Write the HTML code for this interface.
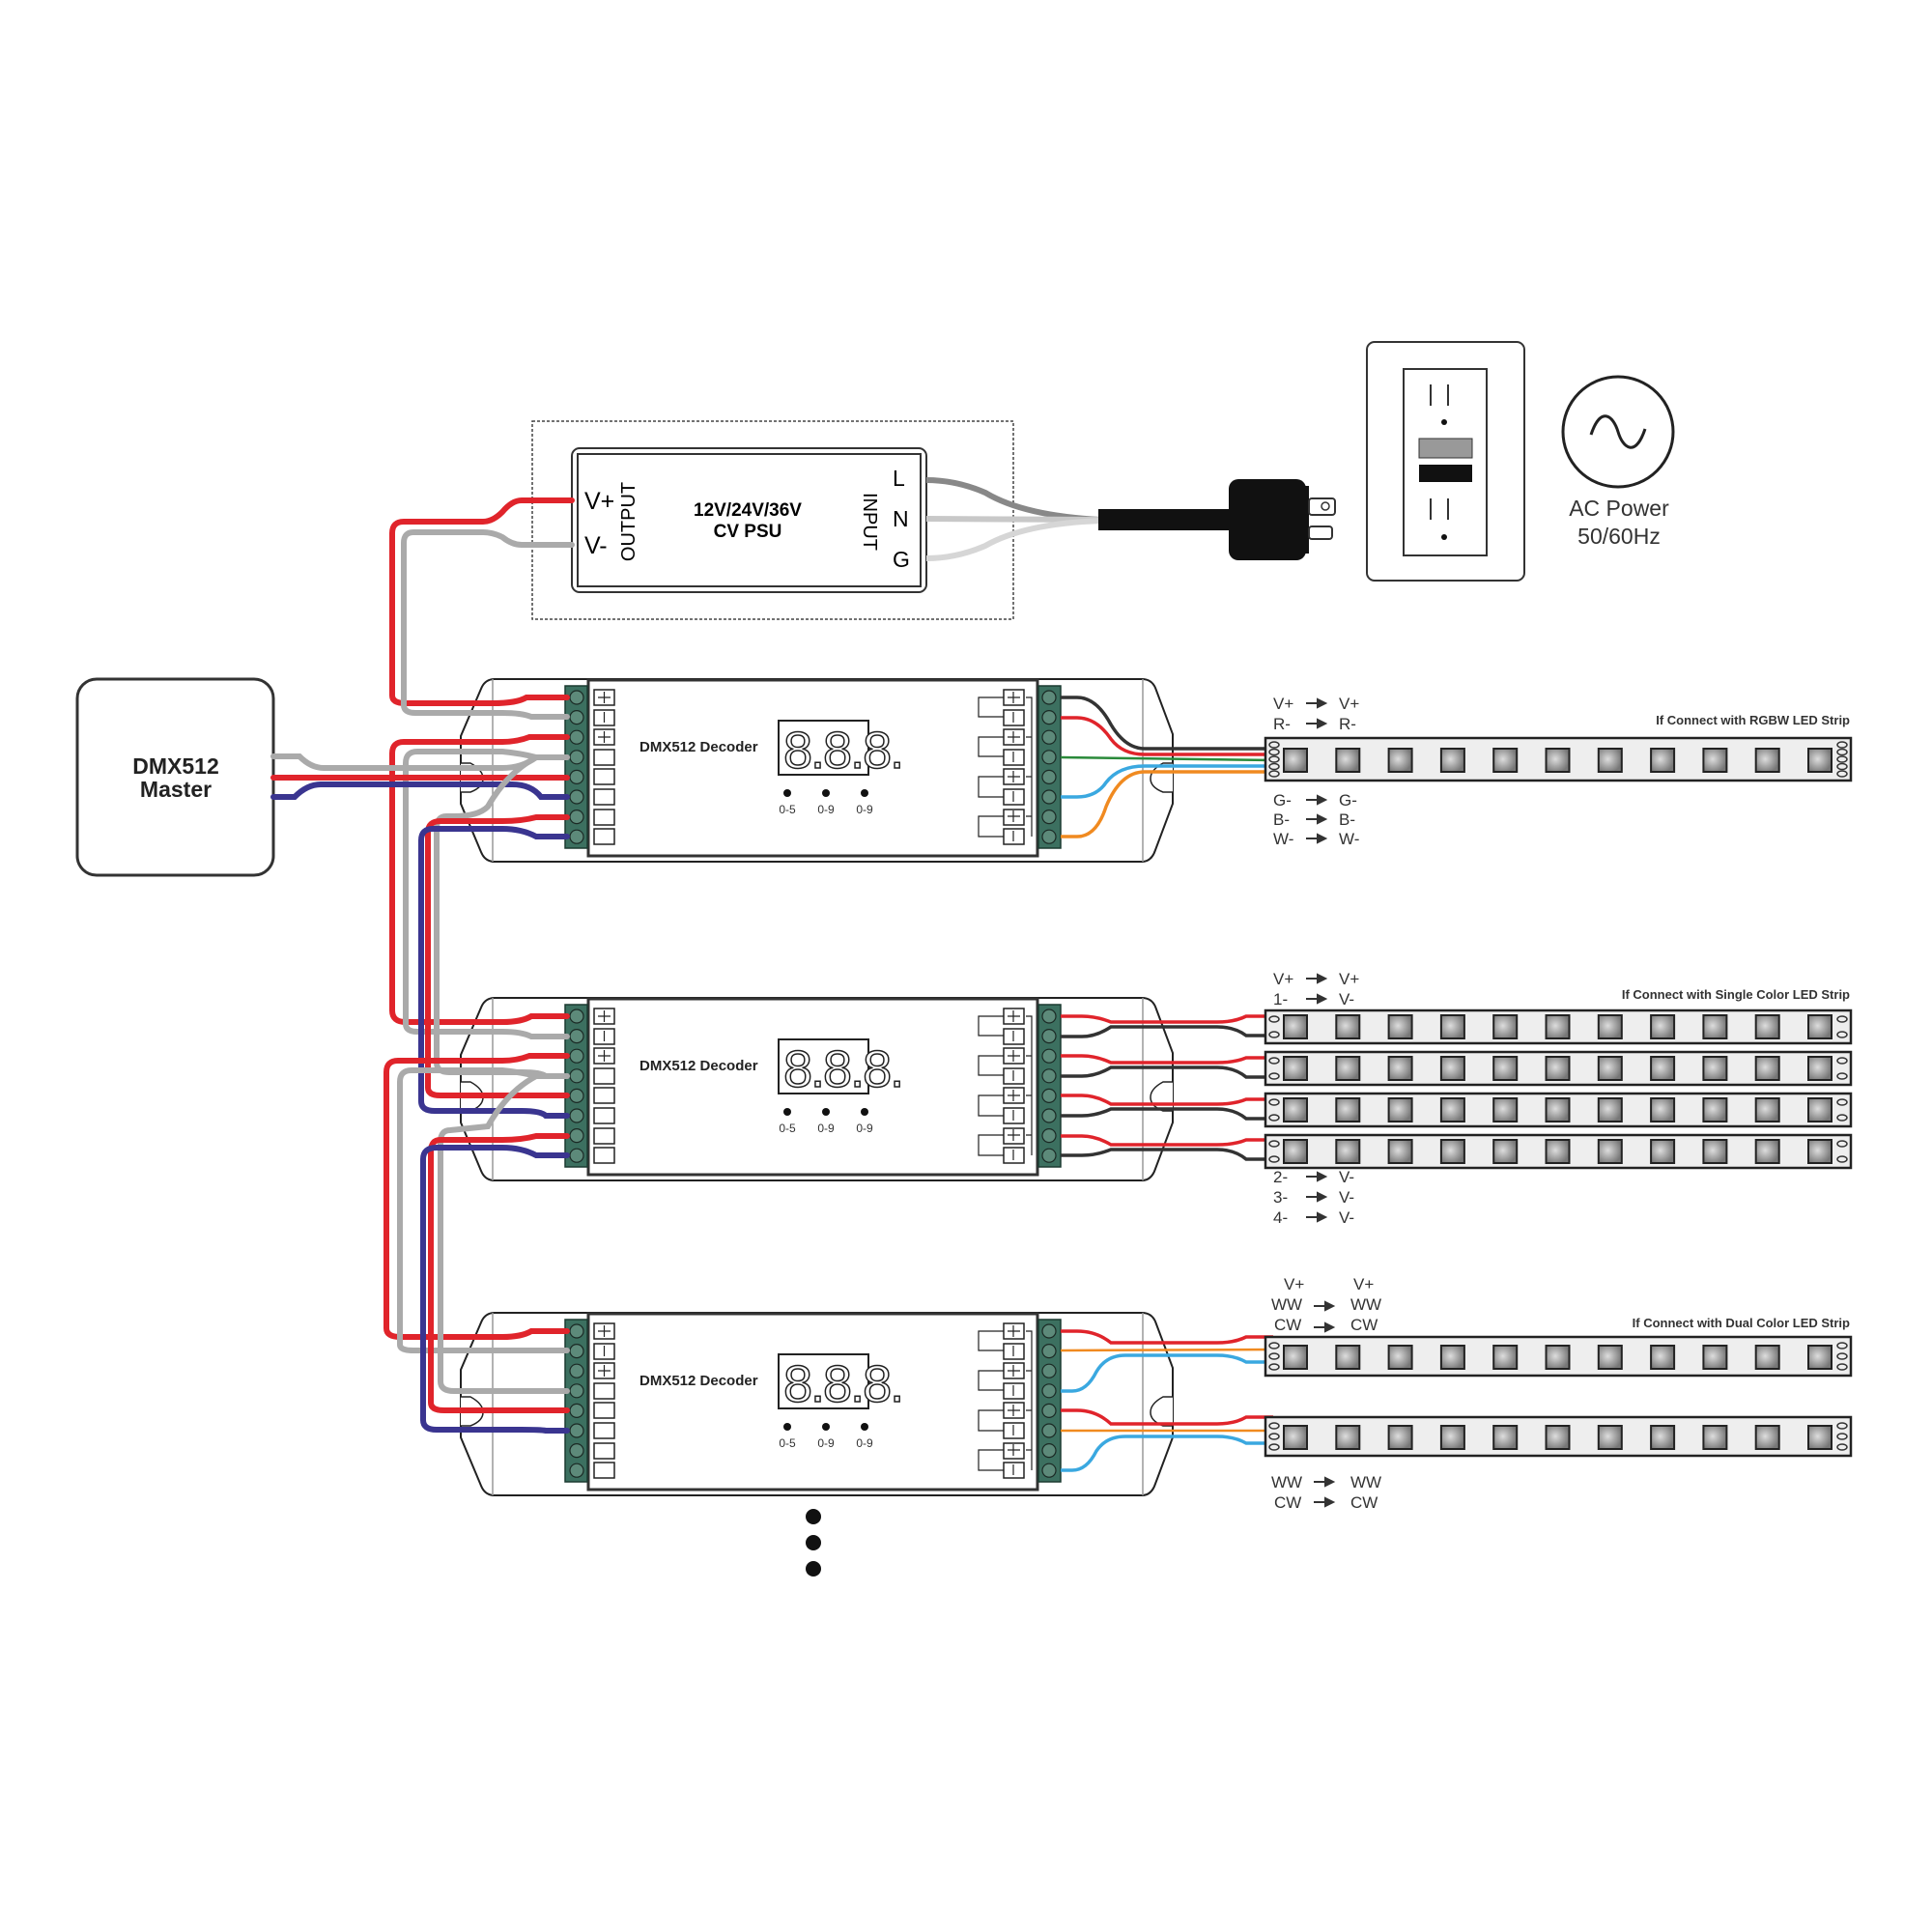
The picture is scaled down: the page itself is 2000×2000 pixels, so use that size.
<!DOCTYPE html>
<html><head><meta charset="utf-8"><style>
html,body{margin:0;padding:0;background:#fff}
svg{display:block}
text{font-family:"Liberation Sans",sans-serif}
</style></head><body>
<svg width="2000" height="2000" viewBox="0 0 2000 2000" xmlns="http://www.w3.org/2000/svg">
<defs>
<radialGradient id="led" cx="40%" cy="45%" r="60%"><stop offset="0" stop-color="#ddd"/><stop offset="1" stop-color="#777"/></radialGradient>
<g id="decbody">
  <path d="M512 703 L1182 703 Q1192 703 1196 712 L1214 760 L1214 832 L1196 880 Q1192 892 1182 892 L512 892 Q502 892 498 882 L477 832 L477 762 L498 713 Q502 703 512 703 Z" fill="#fff" stroke="#222" stroke-width="2"/>
  <path d="M477 790 L487 790 Q500 797 500 806 Q500 815 487 820 L477 820" fill="#fff" stroke="#222" stroke-width="1.5"/>
  <path d="M1214 790 L1204 790 Q1191 797 1191 806 Q1191 815 1204 820 L1214 820" fill="#fff" stroke="#222" stroke-width="1.5"/>
  <line x1="510" y1="703" x2="510" y2="892" stroke="#999" stroke-width="1.5"/>
  <line x1="1183" y1="703" x2="1183" y2="892" stroke="#999" stroke-width="1.5"/>
  <rect x="609" y="704" width="465" height="182" fill="#fff" stroke="#333" stroke-width="3"/>
  <rect x="585" y="710" width="23" height="168" fill="#3c7060" stroke="#1b3a30" stroke-width="1.5"/>
  <rect x="1075" y="710" width="23" height="168" fill="#3c7060" stroke="#1b3a30" stroke-width="1.5"/>
  <g fill="#5d8a7a" stroke="#1b2a25" stroke-width="1.2">
    <circle cx="597" cy="722" r="7"/><circle cx="597" cy="742.6" r="7"/><circle cx="597" cy="763.2" r="7"/><circle cx="597" cy="783.8" r="7"/><circle cx="597" cy="804.4" r="7"/><circle cx="597" cy="825" r="7"/><circle cx="597" cy="845.6" r="7"/><circle cx="597" cy="866.2" r="7"/>
    <circle cx="1086" cy="722" r="7"/><circle cx="1086" cy="742.6" r="7"/><circle cx="1086" cy="763.2" r="7"/><circle cx="1086" cy="783.8" r="7"/><circle cx="1086" cy="804.4" r="7"/><circle cx="1086" cy="825" r="7"/><circle cx="1086" cy="845.6" r="7"/><circle cx="1086" cy="866.2" r="7"/>
  </g>
  <g fill="#fff" stroke="#222" stroke-width="1.5">
    <rect x="615" y="714" width="21" height="16"/><rect x="615" y="735" width="21" height="16"/><rect x="615" y="755" width="21" height="16"/><rect x="615" y="776" width="21" height="16"/><rect x="615" y="796" width="21" height="16"/><rect x="615" y="817" width="21" height="16"/><rect x="615" y="838" width="21" height="16"/><rect x="615" y="858" width="21" height="16"/>
    <rect x="1039" y="714" width="21" height="16"/><rect x="1039" y="735" width="21" height="16"/><rect x="1039" y="755" width="21" height="16"/><rect x="1039" y="776" width="21" height="16"/><rect x="1039" y="796" width="21" height="16"/><rect x="1039" y="817" width="21" height="16"/><rect x="1039" y="838" width="21" height="16"/><rect x="1039" y="858" width="21" height="16"/>
  </g>
  <g stroke="#222" stroke-width="1.2" fill="none">
    <path d="M1062 722 L1068 722 L1068 866 M1068 763 L1062 763 M1068 804 L1062 804 M1068 845 L1062 845"/>
    <path d="M1039 722 L1013 722 L1013 742 L1039 742 M1039 763 L1013 763 L1013 783 L1039 783 M1039 804 L1013 804 L1013 825 L1039 825 M1039 845 L1013 845 L1013 866 L1039 866"/>
    <path d="M1043 722 h13 M1049 716 v12 M1043 763 h13 M1049 757 v12 M1043 804 h13 M1049 798 v12 M1043 845 h13 M1049 839 v12 M1049 737 v11 M1049 778 v11 M1049 819 v11 M1049 860 v11"/>
    <path d="M619 722 h13 M625.5 716 v12 M619 763 h13 M625.5 757 v12 M625.5 737 v11"/>
  </g>
  <rect x="806" y="746" width="93" height="56" fill="#fff" stroke="#222" stroke-width="2"/>
  <circle cx="815" cy="821" r="4" fill="#111"/><circle cx="855" cy="821" r="4" fill="#111"/><circle cx="895" cy="821" r="4" fill="#111"/>
</g>
</defs>

<!-- PSU -->
<rect x="551" y="436" width="498" height="205" fill="none" stroke="#444" stroke-width="1.5" stroke-dasharray="3 2"/>
<rect x="592" y="464" width="367" height="149" rx="8" fill="#fff" stroke="#333" stroke-width="2"/>
<rect x="598" y="470" width="355" height="137" fill="none" stroke="#333" stroke-width="2"/>
<text x="605" y="527" font-size="25">V+</text>
<text x="605" y="573" font-size="25">V-</text>
<text transform="translate(657,540) rotate(-90)" font-size="20" text-anchor="middle">OUTPUT</text>
<text x="774" y="534" font-size="19" font-weight="bold" text-anchor="middle">12V/24V/36V</text>
<text x="774" y="556" font-size="19" font-weight="bold" text-anchor="middle">CV PSU</text>
<text transform="translate(894,540) rotate(90)" font-size="20" text-anchor="middle">INPUT</text>
<text x="924" y="503" font-size="23">L</text>
<text x="924" y="545" font-size="23">N</text>
<text x="924" y="587" font-size="23">G</text>
<!-- AC wires -->
<path d="M959 497 Q990 497 1020 510 Q1060 534 1140 538" fill="none" stroke="#888" stroke-width="6"/>
<path d="M959 537 L1140 538" fill="none" stroke="#c8c8c8" stroke-width="6"/>
<path d="M959 578 Q990 578 1020 565 Q1060 542 1140 539" fill="none" stroke="#d6d6d6" stroke-width="6"/>
<rect x="1137" y="527" width="140" height="22" fill="#111"/>
<rect x="1272" y="496" width="80" height="84" rx="10" fill="#111"/>
<rect x="1350" y="503" width="5" height="70" fill="#111"/>
<rect x="1355" y="516" width="27" height="17" rx="3" fill="#fff" stroke="#333" stroke-width="2"/>
<circle cx="1372" cy="524" r="4" fill="none" stroke="#333" stroke-width="1.5"/>
<rect x="1355" y="545" width="24" height="13" rx="3" fill="#fff" stroke="#333" stroke-width="2"/>
<!-- outlet -->
<rect x="1415" y="354" width="163" height="247" rx="8" fill="#fff" stroke="#333" stroke-width="2"/>
<rect x="1453" y="382" width="86" height="193" fill="#fff" stroke="#333" stroke-width="2"/>
<path d="M1481 398 v22 M1499 398 v22 M1481 516 v22 M1499 516 v22" stroke="#333" stroke-width="2"/>
<circle cx="1495" cy="437" r="3" fill="#111"/><circle cx="1495" cy="556" r="3" fill="#111"/>
<rect x="1469" y="454" width="55" height="20" fill="#999" stroke="#333" stroke-width="1"/>
<rect x="1469" y="481" width="55" height="18" fill="#111"/>
<circle cx="1675" cy="447" r="57" fill="none" stroke="#222" stroke-width="3"/>
<path d="M1647 450 C1657 420 1670 430 1675 447 C1680 464 1693 474 1703 444" fill="none" stroke="#222" stroke-width="3"/>
<text x="1676" y="534" font-size="23" text-anchor="middle" fill="#333">AC Power</text>
<text x="1676" y="563" font-size="23" text-anchor="middle" fill="#333">50/60Hz</text>

<!-- DMX master -->
<rect x="80" y="703" width="203" height="203" rx="20" fill="#fff" stroke="#333" stroke-width="3"/>
<text x="182" y="801" font-size="23" font-weight="bold" text-anchor="middle" fill="#222">DMX512</text>
<text x="182" y="825" font-size="23" font-weight="bold" text-anchor="middle" fill="#222">Master</text>

<!-- decoders -->
<use href="#decbody"/>
<use href="#decbody" transform="translate(0,330)"/>
<use href="#decbody" transform="translate(0,656)"/>

<!-- left wiring -->
<g fill="none" stroke-width="6" stroke-linecap="round">
  <path d="M592 518 L540 518 Q530 518 520 530 Q510 540 500 540 L418 540 Q406 540 406 552 L406 720 Q406 728 420 728 L510 728 Q535 728 545 722 L587 722" stroke="#e0242b"/>
  <path d="M592 564 L540 564 Q530 564 520 556 Q510 551 500 551 L428 551 Q418 551 418 562 L418 730 Q418 738 430 738 L520 738 Q540 738 550 742 L587 742" stroke="#aaa"/>
  <path d="M587 763 L548 763 Q535 768 520 768 L418 768 Q406 768 406 780 L406 1046 Q406 1058 420 1058 L520 1058 Q540 1058 550 1052 L587 1052" stroke="#e0242b"/>
  <path d="M587 784 L555 784 Q540 780 520 778 L432 778 Q420 778 420 790 L420 1060 Q420 1068 432 1068 L520 1068 Q540 1068 550 1073 L587 1073" stroke="#aaa"/>
  <path d="M283 783 L310 783 Q322 795 335 795 L520 795 Q540 795 555 784 L587 784" stroke="#aaa"/>
  <path d="M283 805 L587 805" stroke="#e0242b"/>
  <path d="M283 825 L305 825 Q318 812 332 812 L530 812 Q550 812 560 825 L587 825" stroke="#3a3590"/>
  <path d="M555 784 Q525 800 505 835 Q495 845 470 845 L462 845 Q452 845 452 858 L452 1100 Q452 1110 465 1110 L540 1110 Q560 1110 565 1114 L587 1114" stroke="#aaa"/>
  <path d="M587 846 L555 846 Q540 850 520 850 L456 850 Q443 850 443 862 L443 1126 Q443 1134 456 1134 L587 1134" stroke="#e0242b"/>
  <path d="M587 866 L555 866 Q540 858 520 858 L448 858 Q436 858 436 870 L436 1140 Q436 1150 450 1150 L540 1150 Q560 1150 565 1155 L587 1155" stroke="#3a3590"/>
  <path d="M587 1093 L548 1093 Q535 1098 520 1098 L412 1098 Q400 1098 400 1110 L400 1375 Q400 1384 414 1384 L520 1384 Q540 1384 550 1378 L587 1378" stroke="#e0242b"/>
  <path d="M587 1114 L555 1114 Q540 1110 520 1108 L426 1108 Q414 1108 414 1120 L414 1392 Q414 1398 428 1398 L587 1398" stroke="#aaa"/>
  <path d="M555 1114 Q525 1130 505 1166 L466 1170 Q456 1170 456 1182 L456 1430 Q456 1440 470 1440 L587 1440" stroke="#aaa"/>
  <path d="M587 1176 L555 1176 Q540 1180 520 1180 L456 1180 Q446 1180 446 1192 L446 1452 Q446 1460 460 1460 L587 1460" stroke="#e0242b"/>
  <path d="M587 1196 L555 1196 Q540 1188 520 1188 L452 1188 Q438 1188 438 1200 L438 1470 Q438 1480 452 1480 L540 1480 Q560 1480 565 1481 L587 1481" stroke="#3a3590"/>
</g>

<!-- right wiring d1 -->
<g fill="none" stroke-width="3.5">
  <path d="M1098 722 L1115 722 Q1135 722 1150 750 Q1165 775 1185 775 L1318 775" stroke="#333"/>
  <path d="M1098 743 L1115 743 Q1135 743 1150 765 Q1162 781 1185 781 L1318 781" stroke="#e0242b"/>
  <path d="M1098 784 L1318 787" stroke="#2a8a3a" stroke-width="2.5"/>
  <path d="M1098 825 L1115 825 Q1135 825 1145 810 Q1158 793 1185 793 L1318 793" stroke="#3aa8e0"/>
  <path d="M1098 866 L1115 866 Q1135 866 1145 835 Q1160 799 1185 799 L1318 799" stroke="#f08a20"/>
</g>
<g fill="none" stroke-width="3.5">
  <path d="M1098 1052 L1120 1052 Q1135 1052 1150 1058 L1260 1058 Q1278 1058 1290 1052 L1318 1052" stroke="#e0242b"/>
  <path d="M1098 1073 L1120 1073 Q1135 1073 1150 1063 L1260 1063 Q1278 1063 1290 1072 L1318 1072" stroke="#333"/>
  <path d="M1098 1093 L1120 1093 Q1135 1093 1150 1100 L1260 1100 Q1278 1100 1290 1095 L1318 1095" stroke="#e0242b"/>
  <path d="M1098 1114 L1120 1114 Q1135 1114 1150 1105 L1260 1105 Q1278 1105 1290 1115 L1318 1115" stroke="#333"/>
  <path d="M1098 1134 L1120 1134 Q1135 1134 1150 1143 L1260 1143 Q1278 1143 1290 1138 L1318 1138" stroke="#e0242b"/>
  <path d="M1098 1155 L1120 1155 Q1135 1155 1150 1148 L1260 1148 Q1278 1148 1290 1158 L1318 1158" stroke="#333"/>
  <path d="M1098 1176 L1120 1176 Q1135 1176 1150 1185 L1260 1185 Q1278 1185 1290 1180 L1318 1180" stroke="#e0242b"/>
  <path d="M1098 1196 L1120 1196 Q1135 1196 1150 1190 L1260 1190 Q1278 1190 1290 1200 L1318 1200" stroke="#333"/>
</g>
<g fill="none" stroke-width="3.5">
  <path d="M1098 1378 L1115 1378 Q1135 1378 1150 1390 L1260 1390 Q1278 1390 1290 1384 L1318 1384" stroke="#e0242b"/>
  <path d="M1098 1398 L1318 1397" stroke="#f08a20" stroke-width="2.5"/>
  <path d="M1098 1440 L1110 1440 Q1125 1440 1135 1420 Q1145 1403 1165 1403 L1260 1403 Q1278 1403 1290 1410 L1318 1410" stroke="#3aa8e0"/>
  <path d="M1098 1460 L1115 1460 Q1135 1460 1150 1474 L1260 1474 Q1278 1474 1290 1467 L1318 1467" stroke="#e0242b"/>
  <path d="M1098 1481 L1318 1481" stroke="#f08a20" stroke-width="2.5"/>
  <path d="M1098 1522 L1110 1522 Q1125 1522 1135 1502 Q1145 1487 1165 1487 L1260 1487 Q1278 1487 1290 1494 L1318 1494" stroke="#3aa8e0"/>
</g>

<!-- decoder texts -->
<g font-weight="bold" fill="#222">
  <text x="662" y="778" font-size="15">DMX512 Decoder</text>
  <text x="662" y="1108" font-size="15">DMX512 Decoder</text>
  <text x="662" y="1434" font-size="15">DMX512 Decoder</text>
</g>
<g font-size="54" fill="#fff" stroke="#222" stroke-width="1.5" font-family="Liberation Sans" letter-spacing="-2">
  <text x="811" y="795">8.8.8.</text>
  <text x="811" y="1125">8.8.8.</text>
  <text x="811" y="1451">8.8.8.</text>
</g>
<g font-size="12" fill="#333" text-anchor="middle">
  <text x="815" y="842">0-5</text><text x="855" y="842">0-9</text><text x="895" y="842">0-9</text>
  <text x="815" y="1172">0-5</text><text x="855" y="1172">0-9</text><text x="895" y="1172">0-9</text>
  <text x="815" y="1498">0-5</text><text x="855" y="1498">0-9</text><text x="895" y="1498">0-9</text>
</g>
<circle cx="842" cy="1570" r="8" fill="#111"/>
<circle cx="842" cy="1597" r="8" fill="#111"/>
<circle cx="842" cy="1624" r="8" fill="#111"/>

<g transform="translate(-8,0)">
<g id="stripsall">
<rect x="1318" y="764" width="606" height="44" fill="#eee" stroke="#222" stroke-width="2.5"/>
<rect x="1318" y="1046" width="606" height="34" fill="#eee" stroke="#222" stroke-width="2.5"/>
<rect x="1318" y="1089" width="606" height="34" fill="#eee" stroke="#222" stroke-width="2.5"/>
<rect x="1318" y="1132" width="606" height="34" fill="#eee" stroke="#222" stroke-width="2.5"/>
<rect x="1318" y="1175" width="606" height="34" fill="#eee" stroke="#222" stroke-width="2.5"/>
<rect x="1318" y="1384" width="606" height="40" fill="#eee" stroke="#222" stroke-width="2.5"/>
<rect x="1318" y="1467" width="606" height="40" fill="#eee" stroke="#222" stroke-width="2.5"/>
</g>
<g id="leds" fill="url(#led)" stroke="#222" stroke-width="2">
</g>

<g font-size="17" fill="#333">
  <text x="1326" y="734">V+</text><text x="1394" y="734">V+</text>
  <text x="1326" y="755">R-</text><text x="1394" y="755">R-</text>
  <text x="1326" y="834">G-</text><text x="1394" y="834">G-</text>
  <text x="1326" y="854">B-</text><text x="1394" y="854">B-</text>
  <text x="1326" y="874">W-</text><text x="1394" y="874">W-</text>
  <text x="1326" y="1019">V+</text><text x="1394" y="1019">V+</text>
  <text x="1326" y="1040">1-</text><text x="1394" y="1040">V-</text>
  <text x="1326" y="1224">2-</text><text x="1394" y="1224">V-</text>
  <text x="1326" y="1245">3-</text><text x="1394" y="1245">V-</text>
  <text x="1326" y="1266">4-</text><text x="1394" y="1266">V-</text>
  <text x="1337" y="1335">V+</text><text x="1409" y="1335">V+</text>
  <text x="1324" y="1356">WW</text><text x="1406" y="1356">WW</text>
  <text x="1327" y="1377">CW</text><text x="1406" y="1377">CW</text>
  <text x="1324" y="1540">WW</text><text x="1406" y="1540">WW</text>
  <text x="1327" y="1561">CW</text><text x="1406" y="1561">CW</text>
</g>
<g stroke="#333" stroke-width="2" fill="#333">
  <path d="M1360 728 h14"/><path d="M1372 724 l8 4 l-8 4z"/>
  <path d="M1360 749 h14"/><path d="M1372 745 l8 4 l-8 4z"/>
  <path d="M1360 828 h14"/><path d="M1372 824 l8 4 l-8 4z"/>
  <path d="M1360 848 h14"/><path d="M1372 844 l8 4 l-8 4z"/>
  <path d="M1360 868 h14"/><path d="M1372 864 l8 4 l-8 4z"/>
  <path d="M1360 1013 h14"/><path d="M1372 1009 l8 4 l-8 4z"/>
  <path d="M1360 1034 h14"/><path d="M1372 1030 l8 4 l-8 4z"/>
  <path d="M1360 1218 h14"/><path d="M1372 1214 l8 4 l-8 4z"/>
  <path d="M1360 1239 h14"/><path d="M1372 1235 l8 4 l-8 4z"/>
  <path d="M1360 1260 h14"/><path d="M1372 1256 l8 4 l-8 4z"/>
  <path d="M1368 1352 h14"/><path d="M1380 1348 l8 4 l-8 4z"/>
  <path d="M1368 1374 h14"/><path d="M1380 1370 l8 4 l-8 4z"/>
  <path d="M1368 1534 h14"/><path d="M1380 1530 l8 4 l-8 4z"/>
  <path d="M1368 1555 h14"/><path d="M1380 1551 l8 4 l-8 4z"/>
</g>
<g font-size="13" font-weight="bold" fill="#333" text-anchor="end">
  <text x="1923" y="750">If Connect with RGBW LED Strip</text>
  <text x="1923" y="1034">If Connect with Single Color LED Strip</text>
  <text x="1923" y="1374">If Connect with Dual Color LED Strip</text>
</g>
</g>
<script>
(function(){
 var g=document.getElementById('leds');var ns='http://www.w3.org/2000/svg';
 var rows=[[775,24],[1051,24],[1094,24],[1137,24],[1180,24],[1393,24],[1476,24]];
 rows.forEach(function(r){for(var i=0;i<11;i++){var e=document.createElementNS(ns,'rect');e.setAttribute('x',1337+i*54.3);e.setAttribute('y',r[0]);e.setAttribute('width',r[1]);e.setAttribute('height',r[1]);g.appendChild(e);}});
 var p=document.getElementById('stripsall');
 function pad(x,y){var e=document.createElementNS(ns,'ellipse');e.setAttribute('cx',x);e.setAttribute('cy',y);e.setAttribute('rx',5);e.setAttribute('ry',3);e.setAttribute('fill','none');e.setAttribute('stroke','#333');e.setAttribute('stroke-width','1.5');p.appendChild(e);}
 [1327,1915].forEach(function(x){
  for(var k=0;k<5;k++)pad(x,771+k*7.5);
  [1046,1089,1132,1175].forEach(function(y){pad(x,y+9);pad(x,y+25);});
  [1384,1467].forEach(function(y){pad(x,y+9);pad(x,y+20);pad(x,y+31);});
 });
})();
</script>
</svg>
</body></html>
